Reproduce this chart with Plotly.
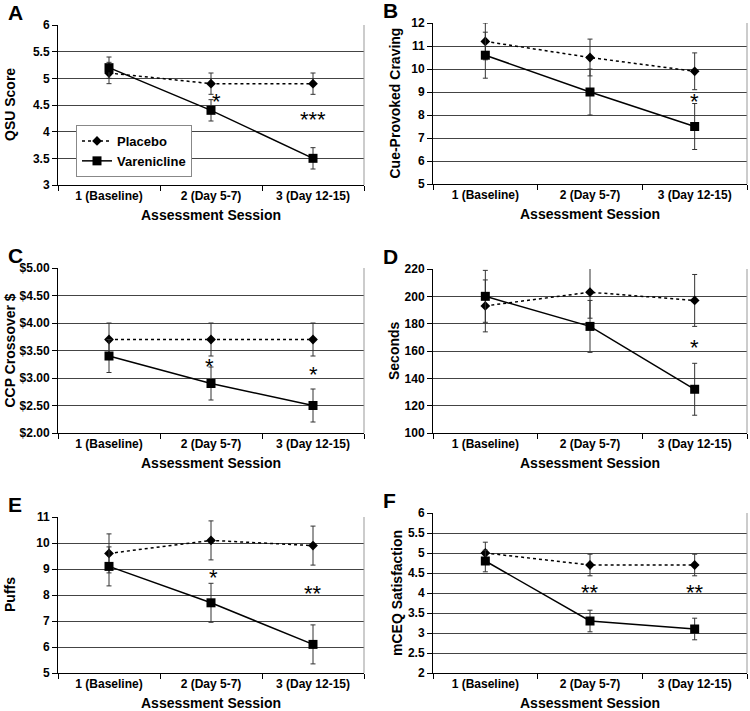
import plotly.graph_objects as go

sessions = ["1 (Baseline)", "2 (Day 5-7)", "3 (Day 12-15)"]

# Panel A: QSU Score
qsu_placebo = [5.1, 4.9, 4.9]
qsu_placebo_err = [0.2, 0.2, 0.2]
qsu_varen = [5.2, 4.4, 3.5]
qsu_varen_err = [0.2, 0.2, 0.2]

# Panel B: Cue-Provoked Craving
cue_placebo = [11.2, 10.5, 9.9]
cue_placebo_err = [0.8, 0.8, 0.8]
cue_varen = [10.6, 9.0, 7.5]
cue_varen_err = [1.0, 1.0, 1.0]

# Panel C: CCP Crossover $
ccp_placebo = [3.7, 3.7, 3.7]
ccp_placebo_err = [0.3, 0.3, 0.3]
ccp_varen = [3.4, 2.9, 2.5]
ccp_varen_err = [0.3, 0.3, 0.3]

# Panel D: Seconds
sec_placebo = [193, 203, 197]
sec_placebo_err = [19, 19, 19]
sec_varen = [200, 178, 132]
sec_varen_err = [19, 19, 19]

# Panel E: Puffs
puff_placebo = [9.6, 10.1, 9.9]
puff_placebo_err = [0.75, 0.75, 0.75]
puff_varen = [9.1, 7.7, 6.1]
puff_varen_err = [0.75, 0.75, 0.75]

# Panel F: mCEQ Satisfaction
mceq_placebo = [5.0, 4.7, 4.7]
mceq_placebo_err = [0.27, 0.27, 0.27]
mceq_varen = [4.8, 3.3, 3.1]
mceq_varen_err = [0.27, 0.27, 0.27]

# Significance markers: (session index, y value, text)
stars_A = [(1, 4.66, "*"), (2, 4.32, "***")]
stars_B = [(2, 8.8, "*")]
stars_C = [(1, 3.30, "*"), (2, 3.16, "*")]
stars_D = [(2, 166, "*")]
stars_E = [(1, 8.85, "*"), (2, 8.25, "**")]
stars_F = [(1, 4.14, "**"), (2, 4.14, "**")]

W, H = 750, 711
FONT = "Liberation Sans, Arial, sans-serif"

panels = [
    dict(letter="A", ytitle="QSU Score", p=qsu_placebo, pe=qsu_placebo_err, v=qsu_varen, ve=qsu_varen_err,
         yr=[3, 6], dt=0.5, fmt=None, pre="", stars=stars_A, box=(58, 364, 25, 185), ytx=10, star_dx=[5, 0]),
    dict(letter="B", ytitle="Cue-Provoked Craving", p=cue_placebo, pe=cue_placebo_err, v=cue_varen, ve=cue_varen_err,
         yr=[5, 12], dt=1, fmt=None, pre="", stars=stars_B, box=(433, 747, 23, 184), ytx=394, star_dx=[0]),
    dict(letter="C", ytitle="CCP Crossover $", p=ccp_placebo, pe=ccp_placebo_err, v=ccp_varen, ve=ccp_varen_err,
         yr=[2, 5], dt=0.5, fmt=".2f", pre="$", stars=stars_C, box=(58, 364, 268, 433), ytx=10, star_dx=[-2, 0]),
    dict(letter="D", ytitle="Seconds", p=sec_placebo, pe=sec_placebo_err, v=sec_varen, ve=sec_varen_err,
         yr=[100, 220], dt=20, fmt=None, pre="", stars=stars_D, box=(433, 747, 269, 433), ytx=394, star_dx=[0]),
    dict(letter="E", ytitle="Puffs", p=puff_placebo, pe=puff_placebo_err, v=puff_varen, ve=puff_varen_err,
         yr=[5, 11], dt=1, fmt=None, pre="", stars=stars_E, box=(58, 364, 517, 673), ytx=10, star_dx=[2, 0]),
    dict(letter="F", ytitle="mCEQ Satisfaction", p=mceq_placebo, pe=mceq_placebo_err, v=mceq_varen, ve=mceq_varen_err,
         yr=[2, 6], dt=0.5, fmt=None, pre="", stars=stars_F, box=(433, 747, 513, 673), ytx=397, star_dx=[0, 0]),
]

fig = go.Figure()
annotations = []
shapes = []
layout = {}

for i, pn in enumerate(panels):
    n = i + 1
    xa = "x" if n == 1 else f"x{n}"
    ya = "y" if n == 1 else f"y{n}"
    x0, x1, y0, y1 = pn["box"]
    xdom = [x0 / W, x1 / W]
    ydom = [1 - y1 / H, 1 - y0 / H]

    fig.add_trace(go.Scatter(
        x=sessions, y=pn["p"], xaxis=xa, yaxis=ya, name="Placebo",
        mode="lines+markers", showlegend=(n == 1),
        line=dict(color="black", width=1.5, dash="3px,3px"),
        marker=dict(symbol="diamond", size=7.5, color="black"),
        error_y=dict(type="data", array=pn["pe"], color="#333", thickness=1, width=2.5),
    ))
    fig.add_trace(go.Scatter(
        x=sessions, y=pn["v"], xaxis=xa, yaxis=ya, name="Varenicline",
        mode="lines+markers", showlegend=(n == 1),
        line=dict(color="black", width=1.5),
        marker=dict(symbol="square", size=9, color="black"),
        error_y=dict(type="data", array=pn["ve"], color="#333", thickness=1, width=2.5),
    ))

    layout["xaxis" if n == 1 else f"xaxis{n}"] = dict(
        domain=xdom, anchor=ya, type="category", categoryorder="array", categoryarray=sessions,
        range=[-0.5, 2.5], tickson="boundaries", ticks="outside", ticklen=5, tickcolor="black",
        showline=True, linecolor="black", linewidth=1, showgrid=False, zeroline=False,
        automargin=False, fixedrange=True,
        tickfont=dict(family=FONT, size=12, color="black", weight="bold"),
    )
    yax = dict(
        domain=ydom, anchor=xa, range=pn["yr"], dtick=pn["dt"], tick0=pn["yr"][0],
        ticks="outside", ticklen=5, tickcolor="black",
        showline=True, linecolor="black", linewidth=1,
        showgrid=True, gridcolor="#444", gridwidth=1, zeroline=False,
        automargin=False, fixedrange=True,
        tickfont=dict(family=FONT, size=12, color="black", weight="bold"),
        tickprefix=pn["pre"],
    )
    if pn["fmt"]:
        yax["tickformat"] = pn["fmt"]
    layout["yaxis" if n == 1 else f"yaxis{n}"] = yax

    # right border (gray)
    shapes.append(dict(type="line", xref="paper", yref="paper", x0=x1 / W, x1=x1 / W,
                       y0=ydom[0], y1=ydom[1], line=dict(color="#999", width=1)))

    # panel letter
    annotations.append(dict(text=pn["letter"], xref="paper", yref="paper",
                            x=(x0 - 52) / W, y=1 - (y0 - 13) / H, xanchor="left", yanchor="middle",
                            showarrow=False, font=dict(family=FONT, size=21, color="black", weight="bold")))
    # y title
    annotations.append(dict(text=pn["ytitle"], xref="paper", yref="paper", textangle=-90,
                            x=pn["ytx"] / W, y=(ydom[0] + ydom[1]) / 2, xanchor="center", yanchor="middle",
                            showarrow=False, font=dict(family=FONT, size=14, color="black", weight="bold")))
    # x title
    annotations.append(dict(text="Assessment Session", xref="paper", yref="paper",
                            x=(x0 + x1) / 2 / W, y=1 - (y1 + 30) / H, xanchor="center", yanchor="middle",
                            showarrow=False, font=dict(family=FONT, size=14, color="black", weight="bold")))
    # significance stars
    for (si, sy, st), dx in zip(pn["stars"], pn["star_dx"]):
        annotations.append(dict(text=st, xref=xa, yref=ya, x=sessions[si], y=sy,
                                xanchor="center", yanchor="middle", xshift=dx, yshift=-5,
                                showarrow=False, font=dict(family=FONT, size=22, color="black")))

fig.update_layout(
    width=W, height=H, margin=dict(l=0, r=0, t=0, b=0, autoexpand=False),
    paper_bgcolor="white", plot_bgcolor="white",
    showlegend=True,
    legend=dict(x=76 / W, y=1 - 125 / H, xanchor="left", yanchor="top",
                bgcolor="white", bordercolor="#888", borderwidth=1,
                font=dict(family=FONT, size=13, color="black", weight="bold"),
                tracegroupgap=0, itemwidth=30),
    annotations=annotations, shapes=shapes,
    **layout,
)

fig.write_html("out.html", config={"displayModeBar": False},
               post_script="document.body.style.margin='0px';")
